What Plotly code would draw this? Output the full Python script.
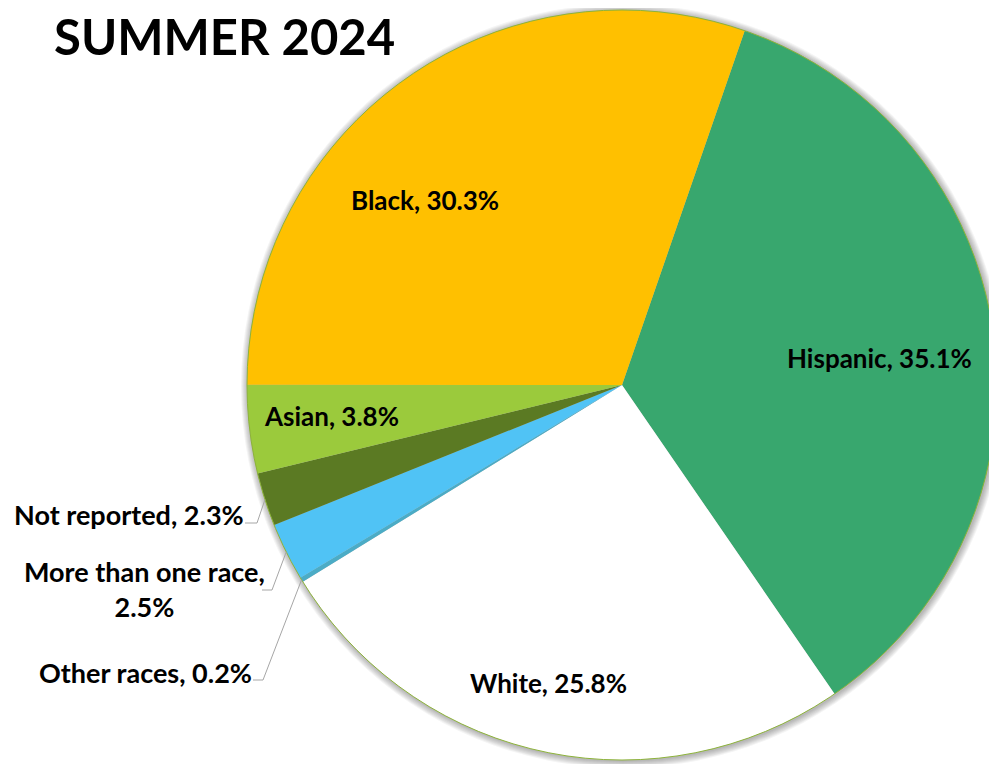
import math
import plotly.graph_objects as go

# ---- data ----
categories = ["Hispanic", "White", "Other races", "More than one race",
              "Not reported", "Asian", "Black"]
shares = [35.1, 25.8, 0.2, 2.5, 2.3, 3.8, 30.3]
slice_colors = ["#38A76E", "#FFFFFF", "#4BACC6", "#50C3F5",
                "#5B7A23", "#9BCA3C", "#FFC000"]
title_text = "SUMMER 2024"

# ---- layout geometry (window pixels) ----
OFF = 8               # page body margin
W, H = 997 - OFF, 764 - OFF
CX, CY, R = 622, 385, 375
ROT = 19.1  # degrees clockwise from 12 o'clock

FONT = "Lato"
FS_IN = 26
FS_OUT = 27


def px(x):
    return (x - OFF) / W


def py(y):
    return 1 - (y - OFF) / H


fig = go.Figure()

# soft shadow under the pie
for i in range(1, 8):
    rr = R + i
    fig.add_shape(type="circle", xref="paper", yref="paper", layer="below",
                  x0=px(CX - rr + 1), x1=px(CX + rr + 1),
                  y0=py(CY + rr + 1), y1=py(CY - rr + 1),
                  fillcolor="rgba(0,0,0,0.045)", line=dict(width=0))

fig.add_trace(go.Pie(
    labels=categories, values=shares, sort=False, direction="clockwise",
    rotation=ROT, marker=dict(colors=slice_colors, line=dict(width=0)),
    textinfo="none", hoverinfo="label+percent", showlegend=False,
    domain=dict(x=[px(CX - R), min(1.0, px(CX + R))], y=[py(CY + R), py(CY - R)]),
))

# outline of the pie
fig.add_shape(type="circle", xref="paper", yref="paper", layer="above",
              x0=px(CX - R), x1=px(CX + R), y0=py(CY + R), y1=py(CY - R),
              line=dict(color="#8DB33A", width=1))

# slice angles
total = sum(shares)
mids = {}
acc = ROT
for c, v in zip(categories, shares):
    a = v / total * 360
    mids[c] = acc + a / 2
    acc += a


def polar(angle_deg, rad):
    t = math.radians(angle_deg)
    return CX + rad * math.sin(t), CY - rad * math.cos(t)


def lab(c, v):
    return f"{c}, {v:.1f}%"


# inside labels: (angle, radius fraction)
inside = {"Black": (313.2, 0.72), "Hispanic": (84.0, 0.69),
          "White": (193.9, 0.82), "Asian": (263.9, 0.78)}
for c, v in zip(categories, shares):
    if c in inside:
        ang, fr = inside[c]
        x, y = polar(ang, fr * R)
        fig.add_annotation(x=px(x), y=py(y), xref="paper", yref="paper",
                           xanchor="center", yanchor="middle",
                           text=f"<b>{lab(c, v)}</b>", showarrow=False,
                           font=dict(family=FONT, size=FS_IN, color="black"))

# outside labels with leader lines: elbow point, horizontal length
outside = {"Not reported": (257, 523, 12),
           "More than one race": (272, 590, 10),
           "Other races": (263, 680, 10)}
for c, v in zip(categories, shares):
    if c not in outside:
        continue
    ex, ey, hl = outside[c]
    sx, sy = polar(mids[c], R)
    fig.add_shape(type="path", xref="paper", yref="paper", layer="above",
                  path=f"M {px(ex - hl)} {py(ey)} L {px(ex)} {py(ey)} L {px(sx)} {py(sy)}",
                  line=dict(color="#A6A6A6", width=1))
    if c == "More than one race":
        txt = f"<b>{c},<br>{v:.1f}%</b>"
        fig.add_annotation(x=px(ex - hl + 5), y=py(ey - 1), xref="paper", yref="paper",
                           text=txt, showarrow=False, xanchor="right",
                           yanchor="middle", align="center",
                           font=dict(family=FONT, size=FS_OUT, color="black"))
    else:
        fig.add_annotation(x=px(ex - hl + 1), y=py(ey - 8), xref="paper", yref="paper",
                           text=f"<b>{lab(c, v)}</b>", showarrow=False,
                           xanchor="right", yanchor="middle",
                           font=dict(family=FONT, size=FS_OUT, color="black"))

fig.add_annotation(x=px(53), y=py(36), xref="paper", yref="paper",
                   text=f"<b>{title_text}</b>", showarrow=False,
                   xanchor="left", yanchor="middle", borderpad=0,
                   font=dict(family=FONT, size=49, color="black"))

fig.update_layout(width=W, height=H, margin=dict(l=0, r=0, t=0, b=0, pad=0),
                  paper_bgcolor="white", plot_bgcolor="white")
fig.write_html("out.html")
